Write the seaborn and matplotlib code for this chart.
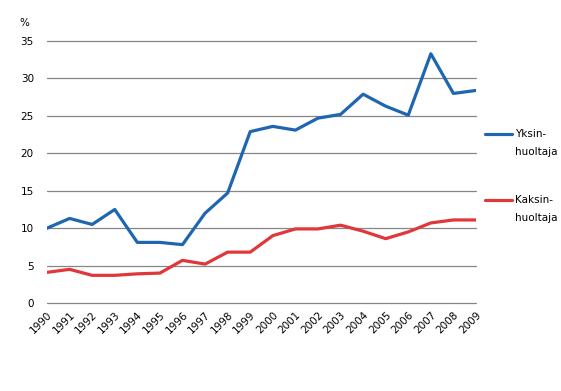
import pandas as pd
import numpy as np
import matplotlib.pyplot as plt
import seaborn as sns

years = list(range(1990, 2010))
yksin = [10.0, 11.3, 10.5, 12.5, 8.1, 8.1, 7.8, 12.0, 14.7, 22.9,
         23.6, 23.1, 24.7, 25.2, 27.9, 26.3, 25.1, 33.3, 28.0, 28.4]
kaksin = [4.1, 4.5, 3.7, 3.7, 3.9, 4.0, 5.7, 5.2, 6.8, 6.8,
          9.0, 9.9, 9.9, 10.4, 9.6, 8.6, 9.5, 10.7, 11.1, 11.1]
labels = ['Yksin-\nhuoltaja', 'Kaksin-\nhuoltaja']

df = pd.DataFrame({'vuosi': years * 2,
                   'osuus': yksin + kaksin,
                   'ryhma': [labels[0]] * 20 + [labels[1]] * 20})

sns.set_style('white')
plt.rcParams['font.family'] = ['DejaVu Sans']
plt.rcParams['font.size'] = 7.5
plt.rcParams['text.color'] = 'black'
plt.rcParams['xtick.color'] = 'black'
plt.rcParams['ytick.color'] = 'black'

fig = plt.figure(figsize=(5.61, 3.91), dpi=100)
ax = fig.add_axes([0.0838, 0.225, 0.7647, 0.670])

sns.lineplot(data=df, x='vuosi', y='osuus', hue='ryhma',
             palette=['#1f66b1', '#e0373a'], linewidth=2.3, ax=ax)

ax.set_xlim(1990, 2009)
ax.set_ylim(0, 35)
ax.set_yticks(range(0, 36, 5))
ax.set_xticks(years)
ax.set_xticklabels([str(y) for y in years], rotation=45, ha='right',
                   rotation_mode='anchor')
ax.tick_params(axis='y', length=0, pad=9.5, labelsize=7.5)
ax.tick_params(axis='x', length=0, pad=5, labelsize=7.5)
ax.yaxis.grid(True, color='#868686', linewidth=0.9)
for gl in ax.get_ygridlines():
    gl.set_clip_on(False)
ax.set_axisbelow(True)
for s in ax.spines.values():
    s.set_visible(False)
ax.set_xlabel('')
ax.set_ylabel('')
ax.text(-0.052, 1.07, '%', transform=ax.transAxes, fontsize=7.5,
        ha='center', va='center')

leg = ax.legend(title=None, frameon=False, loc='upper left',
                bbox_to_anchor=(1.0, 0.77), handlelength=2.6,
                handletextpad=0.2, labelspacing=1.95, fontsize=7.5)
for t in leg.get_texts():
    t.set_text('\n' + t.get_text())
    t.set_linespacing(2.0)

fig.savefig('out.png', dpi=100)
